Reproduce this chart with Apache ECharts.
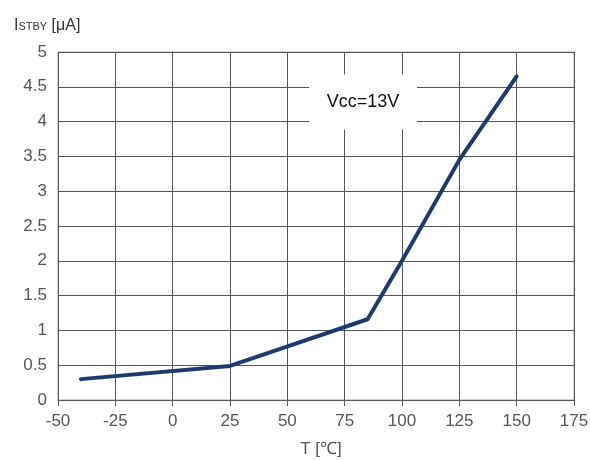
<!DOCTYPE html>
<html><head><meta charset="utf-8">
<script src="https://cdn.jsdelivr.net/npm/echarts@6/dist/echarts.min.js"></script>
<style>html,body{margin:0;padding:0;background:#fff}#c{width:590px;height:460px}</style>
</head><body><div id="c"></div>
<script>
const temps = [-40, 25, 85, 100, 125, 150];
const istby = [0.3, 0.49, 1.16, 2.0, 3.45, 4.65];
const xTicks = [-50, -25, 0, 25, 50, 75, 100, 125, 150, 175];
const yTicks = [0, 0.5, 1, 1.5, 2, 2.5, 3, 3.5, 4, 4.5, 5];
const noteText = 'Vcc=13V';
const notePos = [83, 4.28];

const chart = echarts.init(document.getElementById('c'));
const font = 'Arial, "Liberation Sans", sans-serif';
chart.setOption({
  animation: false,
  title: {
    text: '{i|I}{s|STBY}{i| [μA]}', left: 9, top: 13,
    textStyle: {fontWeight: 'normal', rich: {
      i: {fontFamily: font, fontSize: 16, lineHeight: 16, fontWeight: 'normal', color: '#333', verticalAlign: 'bottom'},
      s: {fontFamily: font, fontSize: 11, lineHeight: 11, fontWeight: 'normal', color: '#333', verticalAlign: 'bottom', padding: [0, 0, 2, 0]}
    }}
  },
  grid: {left: 58, right: 16, top: 52, bottom: 60, show: true, borderColor: '#aaa', borderWidth: 1, outerBoundsMode: 'none'},
  xAxis: {
    type: 'value', min: xTicks[0], max: xTicks[xTicks.length-1], interval: 25,
    name: 'T [℃]', nameLocation: 'middle', nameGap: 41,
    nameTextStyle: {fontFamily: font, fontSize: 17, color: '#555', padding: [0, 0, 0, 10]},
    axisLine: {show: true, lineStyle: {color: '#555', width: 1}},
    axisTick: {show: true, length: 6, lineStyle: {color: '#555'}},
    axisLabel: {fontFamily: font, fontSize: 17, color: '#555', margin: 13},
    splitLine: {show: true, lineStyle: {color: '#555', width: 1}}
  },
  yAxis: {
    type: 'value', min: yTicks[0], max: yTicks[yTicks.length-1], interval: 0.5,
    axisLine: {show: true, lineStyle: {color: '#555', width: 1}},
    axisTick: {show: true, length: 7, lineStyle: {color: '#555'}},
    axisLabel: {fontFamily: font, fontSize: 17, color: '#555', margin: 11},
    splitLine: {show: true, lineStyle: {color: '#555', width: 1}}
  },
  series: [
    {
      type: 'scatter', data: [notePos], symbolSize: 0, z: 1, silent: true,
      itemStyle: {opacity: 1},
      label: {show: true, position: 'inside', formatter: noteText,
        fontFamily: font, fontSize: 18, color: '#111',
        backgroundColor: '#fff', width: 108, height: 55, align: 'center', verticalAlign: 'middle',
        lineHeight: 55}
    },
    {
      type: 'line', data: temps.map((t, i) => [t, istby[i]]),
      showSymbol: false, symbol: 'none', z: 3,
      lineStyle: {color: '#1e3a6e', width: 4, cap: 'round', join: 'round'}
    }
  ]
});
</script></body></html>
